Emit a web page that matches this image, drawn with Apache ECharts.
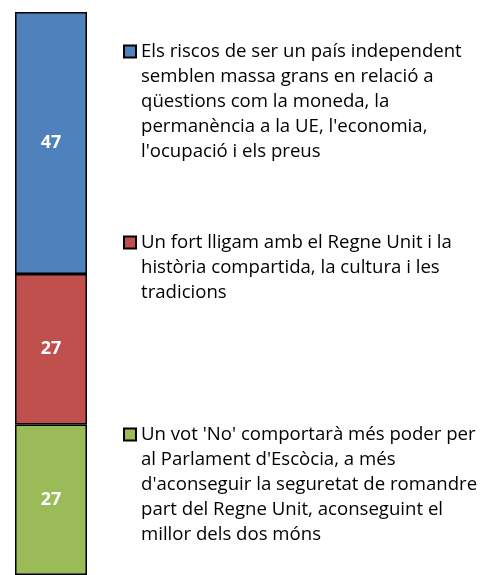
<!DOCTYPE html>
<html>
<head>
<meta charset="utf-8">
<script src="https://cdn.jsdelivr.net/npm/echarts@6/dist/echarts.min.js"></script>
<style>
  html, body { margin: 0; padding: 0; background: #fff; }
  #chart { width: 482px; height: 575px; }
</style>
</head>
<body>
<div id="chart"></div>
<script>
// legend order, top to bottom
const categories = ['']
const seriesNames = [
  'Els riscos de ser un país independent\nsemblen massa grans en relació a\nqüestions com la moneda, la\npermanència a la UE, l\'economia,\nl\'ocupació i els preus',
  'Un fort lligam amb el Regne Unit i la\nhistòria compartida, la cultura i les\ntradicions',
  'Un vot \'No\' comportarà més poder per\nal Parlament d\'Escòcia, a més\nd\'aconseguir la seguretat de romandre\npart del Regne Unit, aconseguint el\nmillor dels dos móns'
]
const values = [47, 27, 27]
const colors = ['#4F81BD', '#C0504D', '#9BBB59']
const legendTops = [-61, 180, 322]

const FONT = 'Open Sans'
const LINE_H = 25

const chart = echarts.init(document.getElementById('chart'))

// stack builds from the bottom, so the last legend entry goes first
const series = seriesNames.map((name, i) => ({
  name: name,
  type: 'bar',
  stack: 'total',
  barWidth: '100%',
  data: [values[i]],
  itemStyle: { color: colors[i], borderColor: '#000', borderWidth: 1.5 },
  label: {
    show: true,
    position: 'inside',
    color: '#fff',
    fontWeight: 'bold',
    fontSize: 18,
    fontFamily: FONT
  }
})).reverse()

// the icon sits at the middle of the text block, so pad with blank
// lines on top to bring it level with the first line
const legends = seriesNames.map((name, i) => {
  const lines = name.split('\n').length
  return {
    data: [name],
    left: 123,
    top: legendTops[i],
    padding: 0,
    itemWidth: 12,
    itemHeight: 12,
    icon: 'rect',
    selectedMode: false,
    formatter: n => '\n'.repeat(lines - 1) + n,
    textStyle: {
      fontFamily: FONT,
      fontSize: 18.6,
      color: '#000',
      lineHeight: LINE_H
    }
  }
})

chart.setOption({
  animation: false,
  grid: { left: 15, right: 395, top: 12, bottom: -5 },
  xAxis: {
    type: 'category',
    data: categories,
    show: false
  },
  yAxis: {
    type: 'value',
    min: 0,
    max: 101,
    show: false
  },
  legend: legends,
  series: series
})
</script>
</body>
</html>
